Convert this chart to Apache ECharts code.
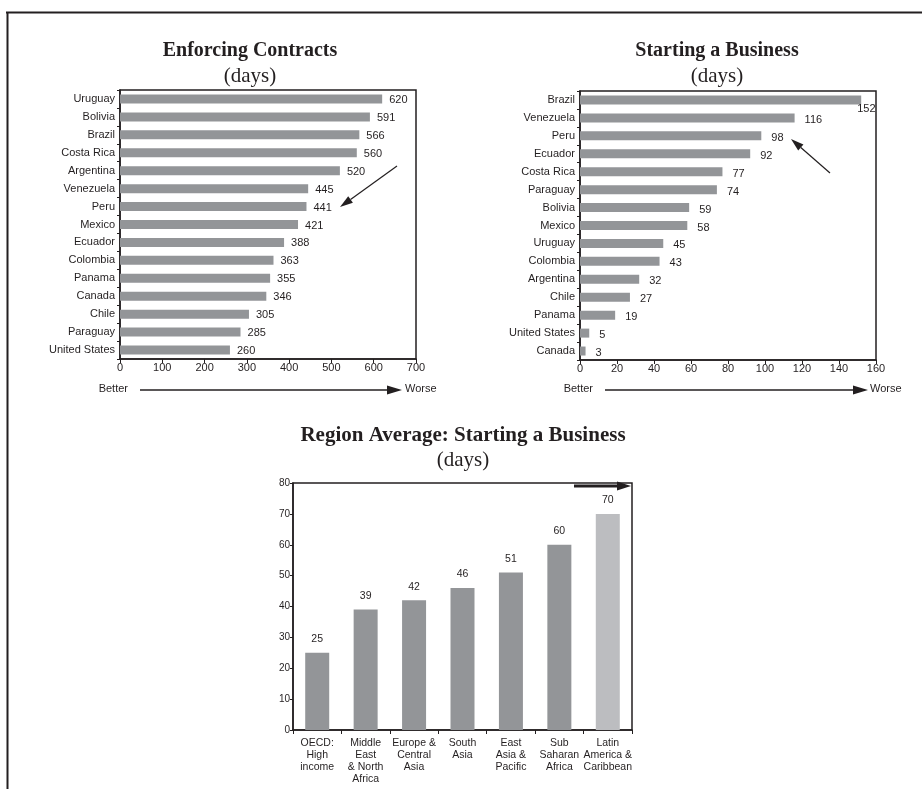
<!DOCTYPE html>
<html>
<head>
<meta charset="utf-8">
<script src="https://cdn.jsdelivr.net/npm/echarts@6/dist/echarts.min.js"></script>
<style>
html,body{margin:0;padding:0;background:#fff;}
#c{width:922px;height:789px;}
</style>
</head>
<body>
<div id="c"></div>
<script>
// ---- data ----
const enfCats = ['Uruguay','Bolivia','Brazil','Costa Rica','Argentina','Venezuela','Peru','Mexico','Ecuador','Colombia','Panama','Canada','Chile','Paraguay','United States'];
const enfVals = [620,591,566,560,520,445,441,421,388,363,355,346,305,285,260];
const enfAxis = {min:0, max:700, interval:100};

const sabCats = ['Brazil','Venezuela','Peru','Ecuador','Costa Rica','Paraguay','Bolivia','Mexico','Uruguay','Colombia','Argentina','Chile','Panama','United States','Canada'];
const sabVals = [152,116,98,92,77,74,59,58,45,43,32,27,19,5,3];
const sabAxis = {min:0, max:160, interval:20};

const regCats = ['OECD:\nHigh\nincome','Middle\nEast\n& North\nAfrica','Europe &\nCentral\nAsia','South\nAsia','East\nAsia &\nPacific','Sub\nSaharan\nAfrica','Latin\nAmerica &\nCaribbean'];
const regVals = [25,39,42,46,51,60,70];
const regAxis = {min:0, max:80, interval:10};

const titles = ['Enforcing Contracts','Starting a Business','Region Average: Starting a Business'];
const subtitle = '(days)';
const betterTxt = 'Better', worseTxt = 'Worse';

// ---- style ----
const BAR = '#939598', BAR_HI = '#bcbdc0', INK = '#231f20';
const SANS = 'Liberation Sans', SERIF = 'Liberation Serif';

const chart = echarts.init(document.getElementById('c'), null, {renderer:'canvas'});

function arrow(x1,y1,x2,y2,lw,hl,hw){
  const a = Math.atan2(y2-y1,x2-x1);
  const bx = x2 - hl*Math.cos(a), by = y2 - hl*Math.sin(a);
  const px = -Math.sin(a)*hw/2, py = Math.cos(a)*hw/2;
  return [
    {type:'line', shape:{x1:x1,y1:y1,x2:bx,y2:by}, style:{stroke:INK, lineWidth:lw}, silent:true},
    {type:'polygon', shape:{points:[[x2,y2],[bx+px,by+py],[bx-px,by-py]]}, style:{fill:INK}, silent:true}
  ];
}
function txt(x,y,s,align){
  return {type:'text', x:x, y:y, style:{text:s, fill:INK, font:'11px "'+SANS+'"', align:align||'left', verticalAlign:'middle'}, silent:true};
}

const catAxisH = (gi, cats) => ({
  type:'category', gridIndex:gi, data:cats, inverse:true,
  axisLine:{show:true, lineStyle:{color:INK, width:1.5}},
  axisTick:{show:true, length:3, lineStyle:{color:INK}},
  axisLabel:{color:INK, fontFamily:SANS, fontSize:11, margin:5},
  splitLine:{show:false}
});
const valAxisH = (gi, ax) => ({
  type:'value', gridIndex:gi, min:ax.min, max:ax.max, interval:ax.interval,
  axisLine:{show:true, lineStyle:{color:INK, width:1.5}},
  axisTick:{show:true, length:4, lineStyle:{color:INK}},
  axisLabel:{color:INK, fontFamily:SANS, fontSize:11, margin:3},
  splitLine:{show:false}
});

const sabData = sabVals.map((v,i)=> i===0
  ? {value:v, label:{offset:[-14,9]}}
  : v);
const regData = regVals.map((v,i)=> i===regVals.length-1
  ? {value:v, itemStyle:{color:BAR_HI}}
  : v);

const option = {
  animation:false,
  backgroundColor:'#fff',
  title:[
    {text:titles[0], left:245, top:36, textAlign:'center', textStyle:{fontFamily:SERIF, fontWeight:'bold', fontSize:20, color:INK}},
    {text:subtitle, left:245, top:61, textAlign:'center', textStyle:{fontFamily:SERIF, fontWeight:'normal', fontSize:21, color:INK}},
    {text:titles[1], left:712, top:36, textAlign:'center', textStyle:{fontFamily:SERIF, fontWeight:'bold', fontSize:20, color:INK}},
    {text:subtitle, left:712, top:61, textAlign:'center', textStyle:{fontFamily:SERIF, fontWeight:'normal', fontSize:21, color:INK}},
    {text:titles[2], left:458, top:420, textAlign:'center', textStyle:{fontFamily:SERIF, fontWeight:'bold', fontSize:21, color:INK}},
    {text:subtitle, left:458, top:445, textAlign:'center', textStyle:{fontFamily:SERIF, fontWeight:'normal', fontSize:21, color:INK}}
  ],
  grid:[
    {left:120, top:90, width:296, height:269, show:true, borderColor:INK, borderWidth:1.5, backgroundColor:'transparent'},
    {left:580, top:91, width:296, height:269, show:true, borderColor:INK, borderWidth:1.5, backgroundColor:'transparent'},
    {left:293, top:483, width:339, height:247, show:true, borderColor:INK, borderWidth:1.5, backgroundColor:'transparent'}
  ],
  xAxis:[
    valAxisH(0, enfAxis),
    valAxisH(1, sabAxis),
    {type:'category', gridIndex:2, data:regCats,
     axisLine:{show:true, lineStyle:{color:INK, width:1.5}},
     axisTick:{show:true, length:4, lineStyle:{color:INK}},
     axisLabel:{color:INK, fontFamily:SANS, fontSize:10.5, lineHeight:12, margin:7, interval:0},
     splitLine:{show:false}}
  ],
  yAxis:[
    catAxisH(0, enfCats),
    catAxisH(1, sabCats),
    {type:'value', gridIndex:2, min:regAxis.min, max:regAxis.max, interval:regAxis.interval,
     axisLine:{show:true, lineStyle:{color:INK, width:1.5}},
     axisTick:{show:true, length:3, lineStyle:{color:INK}},
     axisLabel:{color:INK, fontFamily:SANS, fontSize:10, margin:3},
     splitLine:{show:false}}
  ],
  series:[
    {type:'bar', xAxisIndex:0, yAxisIndex:0, data:enfVals, barWidth:9,
     itemStyle:{color:BAR},
     label:{show:true, position:'right', distance:7, offset:[0,1], color:INK, fontFamily:SANS, fontSize:11}},
    {type:'bar', xAxisIndex:1, yAxisIndex:1, data:sabData, barWidth:9,
     itemStyle:{color:BAR},
     label:{show:true, position:'right', distance:10, offset:[0,2], color:INK, fontFamily:SANS, fontSize:11}},
    {type:'bar', xAxisIndex:2, yAxisIndex:2, data:regData, barWidth:24,
     itemStyle:{color:BAR},
     label:{show:true, position:'top', distance:8, color:INK, fontFamily:SANS, fontSize:10.5}}
  ],
  graphic:[
    // outer frame (top and left)
    {type:'line', shape:{x1:6, y1:12.5, x2:922, y2:12.5}, style:{stroke:INK, lineWidth:2}, silent:true},
    {type:'line', shape:{x1:7.5, y1:12, x2:7.5, y2:789}, style:{stroke:INK, lineWidth:2}, silent:true},
    // chart 1 better/worse
    txt(128,389,betterTxt,'right'),
    ...arrow(140,390,402,390,1.3,15,9),
    txt(405,389,worseTxt,'left'),
    // chart 1 pointer to Peru
    ...arrow(397,166,340,207,1.2,13,8),
    // chart 2 better/worse
    txt(593,389,betterTxt,'right'),
    ...arrow(605,390,868,390,1.3,15,9),
    txt(870,389,worseTxt,'left'),
    // chart 2 pointer to Peru
    ...arrow(830,173,791,139,1.2,13,8),
    // chart 3 arrow
    ...arrow(574,486,631,486,3,14,9)
  ]
};
chart.setOption(option);
</script>
</body>
</html>
